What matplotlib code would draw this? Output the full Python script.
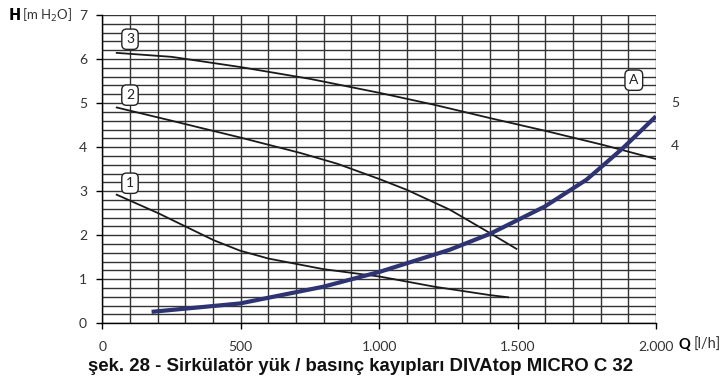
import matplotlib.pyplot as plt
import numpy as np

# pump curves (speed 1, 2, 3) and system curve A
q_curve3 = [52, 250, 497, 750, 1003, 1200, 1400, 1600, 1809, 2000]
h_curve3 = [6.14, 6.05, 5.82, 5.55, 5.23, 4.96, 4.66, 4.37, 4.05, 3.73]

q_curve2 = [52, 250, 497, 714, 850, 1003, 1100, 1255, 1400, 1496]
h_curve2 = [4.90, 4.60, 4.22, 3.87, 3.62, 3.27, 3.03, 2.58, 2.05, 1.69]

q_curve1 = [52, 202, 401, 497, 600, 798, 1003, 1200, 1400, 1466]
h_curve1 = [2.92, 2.50, 1.89, 1.65, 1.47, 1.23, 1.06, 0.83, 0.64, 0.59]

q_curveA = [178, 497, 798, 1003, 1255, 1400, 1598, 1749, 1797, 1881, 2000]
h_curveA = [0.26, 0.45, 0.83, 1.17, 1.67, 2.03, 2.65, 3.26, 3.52, 3.98, 4.70]

x_ticks = [0, 500, 1000, 1500, 2000]
x_tick_labels = ["0", "500", "1.000", "1.500", "2.000"]
y_ticks = [0, 1, 2, 3, 4, 5, 6, 7]

labels = ["3", "2", "1", "A"]
label_pos = [(100, 6.45), (100, 5.18), (100, 3.18), (1920, 5.52)]

side_labels = ["5", "4"]
side_values = [5.0, 4.03]

tick_font = "Lato"

fig = plt.figure(figsize=(7.21, 3.76), dpi=100)
ax = fig.add_axes([0.1419, 0.1402, 0.7679, 0.8199])

ax.set_xlim(0, 2000)
ax.set_ylim(0, 7)

# fine grid: every 100 l/h and every 0.2 m
for q in np.arange(0, 2001, 100):
    ax.axvline(q, color="#333333", lw=1.0, zorder=1)
for h in np.arange(0, 7.01, 0.2):
    ax.axhline(h, color="#333333", lw=1.0, zorder=1)

for s in ["top", "right"]:
    ax.spines[s].set_visible(False)
for s in ["left", "bottom"]:
    ax.spines[s].set_color("black")
    ax.spines[s].set_linewidth(1.0)

ax.set_xticks(x_ticks)
ax.set_xticklabels(x_tick_labels)
ax.set_yticks(y_ticks)
ax.tick_params(axis="both", direction="out", length=4, width=1.0,
               colors="black", labelcolor="#333333", labelsize=10)
ax.tick_params(axis="x", pad=9)
ax.tick_params(axis="y", pad=7)
for t in ax.get_xticklabels() + ax.get_yticklabels():
    t.set_family(tick_font)

ax.plot(q_curve3, h_curve3, color="#1a1a1a", lw=1.3, zorder=3)
ax.plot(q_curve2, h_curve2, color="#1a1a1a", lw=1.3, zorder=3)
ax.plot(q_curve1, h_curve1, color="#1a1a1a", lw=1.3, zorder=3)
ax.plot(q_curveA, h_curveA, color="#2e3373", lw=3.0, zorder=4,
        solid_capstyle="butt")

for txt, (qx, hy) in zip(labels, label_pos):
    ax.text(qx, hy, txt, ha="center", va="center", fontsize=10,
            family=tick_font, color="#222222", zorder=6,
            bbox=dict(boxstyle="round,pad=0.3,rounding_size=0.35",
                      fc="white", ec="#222222", lw=1.0))

for txt, hy in zip(side_labels, side_values):
    ax.text(2055, hy, txt, ha="left", va="center", fontsize=10,
            family=tick_font, color="#333333", clip_on=False)

# axis titles
fig.text(0.011, 0.960, r"$\mathbf{H}$", fontsize=10.5, va="center", ha="left")
fig.text(0.0305, 0.960, "[m H$_2$O]", fontsize=9.5, family=tick_font,
         color="#333333", va="center", ha="left")
fig.text(0.941, 0.0825, "Q", fontsize=10.5, weight="bold", family=tick_font,
         va="center", ha="left")
fig.text(0.962, 0.0825, "[l/h]", fontsize=10.5, family=tick_font,
         color="#333333", va="center", ha="left")

fig.text(0.50, 0.026, "şek. 28 - Sirkülatör yük / basınç kayıpları DIVAtop MICRO C 32",
         fontsize=13.4, weight="bold", family="Liberation Sans",
         ha="center", va="center", color="#111111")

fig.savefig("out.png", dpi=100)
